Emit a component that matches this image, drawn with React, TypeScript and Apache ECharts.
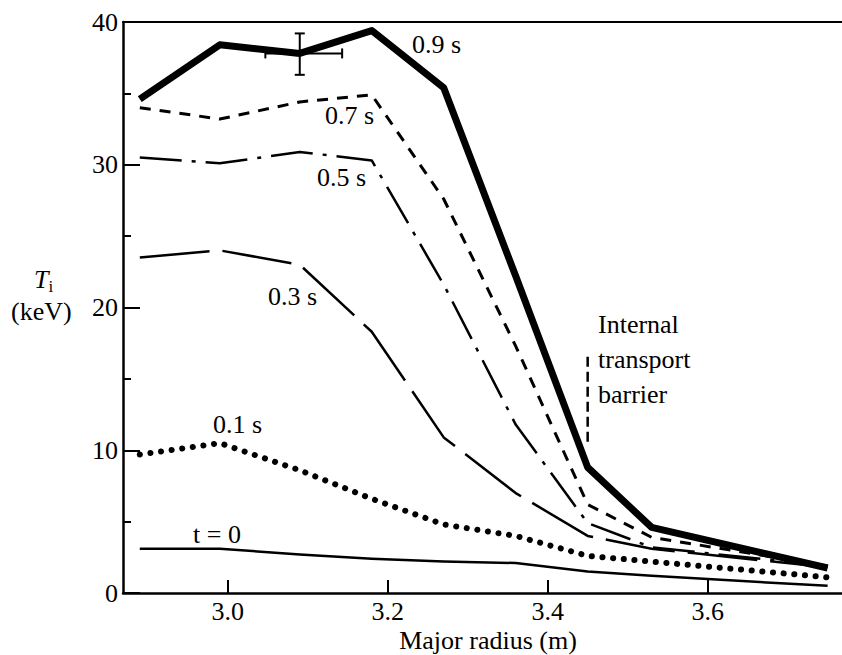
import React, { useEffect, useRef } from "react";
import * as echarts from "echarts";

// Major radius sample positions (m)
const radius = [2.89, 2.99, 3.09, 3.18, 3.27, 3.36, 3.45, 3.53, 3.75];

// Ion temperature profiles (keV) at successive times
const tempT0 = [3.1, 3.1, 2.7, 2.4, 2.2, 2.1, 1.5, 1.2, 0.5];
const temp01 = [9.7, 10.5, 8.6, 6.6, 4.8, 4.0, 2.6, 2.2, 1.1];
const temp03 = [23.5, 24.0, 23.0, 18.3, 10.9, 7.0, 4.0, 3.1, 1.8];
const temp05 = [30.5, 30.1, 30.9, 30.3, 21.6, 11.8, 4.9, 3.2, 1.9];
const temp07 = [34.0, 33.2, 34.4, 34.9, 27.6, 17.3, 6.2, 3.9, 1.9];
const temp09 = [34.6, 38.4, 37.8, 39.4, 35.4, 22.2, 8.8, 4.6, 1.75];

// Error bar on the 0.9 s profile: [R, T, Tlow, Thigh, Rlow, Rhigh]
const errorBar = [[3.09, 37.8, 36.3, 39.2, 3.047, 3.143]];

// Internal transport barrier marker: R and temperature span
const barrierR = 3.45;
const barrierSpan = [10.6, 16.9];

const xTicks = [3.0, 3.2, 3.4, 3.6];
const xRange = [2.869, 3.768];
const yRange = [0, 40];
const xTitle = "Major radius (m)";

const SERIF = "Liberation Serif";
const FS = 26;

const pts = (vals: number[]) => radius.map((r, i) => [r, vals[i]]);

export default function App() {
  const ref = useRef<HTMLDivElement>(null);

  useEffect(() => {
    if (!ref.current) return;
    const chart = echarts.init(ref.current, null, { renderer: "svg" });

    const lineSeries = (
      name: string,
      vals: number[],
      width: number,
      type: any,
      cap: string = "butt",
      z = 2
    ) => ({
      name,
      type: "line",
      data: pts(vals),
      symbol: "none",
      z,
      lineStyle: { color: "#000", width, type, cap, join: "round" },
    });

    const label = (text: string, x: number, y: number, align = "left") => ({
      type: "text",
      x,
      y,
      style: {
        text,
        font: `${FS}px ${SERIF}`,
        fontFamily: SERIF,
        fontSize: FS,
        fill: "#000",
        align,
        verticalAlign: "top",
      },
    });

    chart.setOption({
      animation: false,
      backgroundColor: "#fff",
      textStyle: { fontFamily: SERIF },
      grid: { left: 123, right: 0, top: 22, bottom: 62, outerBoundsMode: "none", containLabel: false },
      xAxis: [
        {
          type: "value",
          min: xRange[0],
          max: xRange[1],
          axisLine: { show: true, lineStyle: { color: "#000", width: 2.5 } },
          axisTick: {
            show: true,
            inside: true,
            length: 13,
            customValues: xTicks,
            lineStyle: { color: "#000", width: 2 },
          },
          axisLabel: {
            customValues: xTicks,
            formatter: (v: number) => v.toFixed(1),
            fontSize: FS,
            fontFamily: SERIF,
            color: "#000",
            margin: 5,
          },
          splitLine: { show: false },
        },
        {
          type: "value",
          position: "top",
          min: xRange[0],
          max: xRange[1],
          axisLine: { show: true, lineStyle: { color: "#000", width: 2 } },
          axisTick: { show: false },
          axisLabel: { show: false },
          splitLine: { show: false },
        },
      ],
      yAxis: {
        type: "value",
        min: yRange[0],
        max: yRange[1],
        interval: 10,
        axisLine: { show: true, lineStyle: { color: "#000", width: 2.5 } },
        axisTick: { show: true, inside: true, length: 17, lineStyle: { color: "#000", width: 2 } },
        minorTick: { show: true, splitNumber: 2, length: 8, lineStyle: { color: "#000", width: 2 } },
        axisLabel: { fontSize: FS, fontFamily: SERIF, color: "#000", margin: 5 },
        splitLine: { show: false },
        minorSplitLine: { show: false },
      },
      series: [
        lineSeries("t = 0", tempT0, 2.5, "solid"),
        lineSeries("0.1 s", temp01, 6, [0.1, 10.6], "round"),
        lineSeries("0.3 s", temp03, 2.5, [70, 13]),
        lineSeries("0.5 s", temp05, 2.5, [42, 10, 4, 10]),
        lineSeries("0.7 s", temp07, 3, [11, 9]),
        lineSeries("0.9 s", temp09, 7, "solid", "butt", 4),
        {
          name: "barrier",
          type: "line",
          data: barrierSpan.map((t) => [barrierR, t]),
          symbol: "none",
          lineStyle: { color: "#000", width: 2.5, type: [10, 5] },
        },
        {
          name: "error",
          type: "custom",
          data: errorBar,
          z: 5,
          renderItem: (_params: any, api: any) => {
            const r = api.value(0);
            const t = api.value(1);
            const top = api.coord([r, api.value(3)]);
            const bot = api.coord([r, api.value(2)]);
            const lft = api.coord([api.value(4), t]);
            const rgt = api.coord([api.value(5), t]);
            const st = { stroke: "#000", lineWidth: 2 };
            const seg = (x1: number, y1: number, x2: number, y2: number) => ({
              type: "line",
              shape: { x1, y1, x2, y2 },
              style: st,
            });
            const cap = 5;
            return {
              type: "group",
              children: [
                seg(top[0], top[1], bot[0], bot[1]),
                seg(top[0] - cap, top[1], top[0] + cap, top[1]),
                seg(bot[0] - cap, bot[1], bot[0] + cap, bot[1]),
                seg(lft[0], lft[1], rgt[0], rgt[1]),
                seg(lft[0], lft[1] - cap, lft[0], lft[1] + cap),
                seg(rgt[0], rgt[1] - cap, rgt[0], rgt[1] + cap),
              ],
            };
          },
        },
      ],
      graphic: [
        label("0.9 s", 412, 31),
        label("0.7 s", 325, 102),
        label("0.5 s", 317, 164),
        label("0.3 s", 268, 283),
        label("0.1 s", 213, 411),
        label("t = 0", 193, 521),
        label("Internal", 598, 311),
        label("transport", 598, 346),
        label("barrier", 598, 381),
        label(xTitle, 488, 627, "center"),
        {
          type: "text",
          x: 34,
          y: 264,
          style: {
            text: "{t|T}{s|i}",
            align: "left",
            verticalAlign: "top",
            rich: {
              t: { fontStyle: "italic", fontSize: FS, fontFamily: SERIF, fill: "#000" },
              s: { fontSize: 17, fontFamily: SERIF, fill: "#000", padding: [14, 0, 0, 0] },
            },
          },
        },
        label("(keV)", 11, 298),
      ],
    });

    return () => chart.dispose();
  }, []);

  return (
    <div
      ref={ref}
      style={{ position: "fixed", left: 0, top: 0, width: 842, height: 655, background: "#fff" }}
    />
  );
}
